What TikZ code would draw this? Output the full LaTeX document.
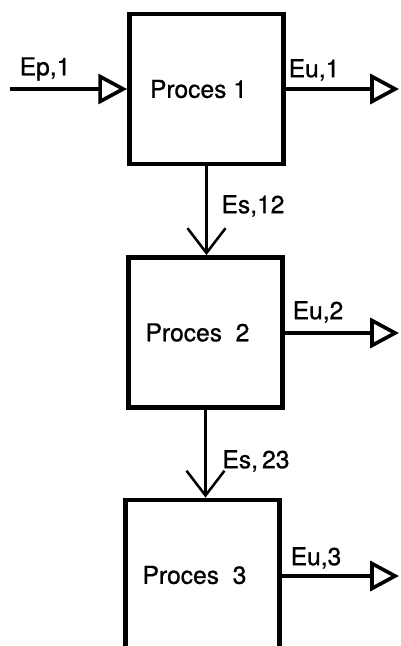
\documentclass[tikz,border=0pt]{standalone}
\usepackage{fontspec}
\setmainfont{TeX Gyre Heros}[FakeBold=0.8]
\usetikzlibrary{arrows.meta,positioning}
\tikzset{
  % process box, drawn with a heavy black outline
  proc/.style  = {rectangle, draw=black, line width=3.4pt, fill=white,
                  minimum width=3.85cm, minimum height=3.75cm, inner sep=0pt},
  pname/.style = {font=\fontsize{17.5}{20}\selectfont, xshift=-0.2cm},
  flow/.style  = {-{Triangle[open, length=0.72cm, width=0.75cm, line width=2.6pt]},
                  line width=2.8pt, black},
  feed/.style  = {-{Straight Barb[length=0.62cm, width=0.95cm, line width=1.8pt]},
                  line width=1.8pt, black},
  tag/.style   = {font=\fontsize{17.5}{20}\selectfont, inner sep=0pt},
}
\begin{document}
\begin{tikzpicture}[x=0.025cm, y=-0.025cm]
\useasboundingbox (0,0) rectangle (401,646);
\fill[white] (0,0) rectangle (401,646);
\clip (0,0) rectangle (401,646);
% the three process boxes
\node[proc, label={[pname]center:Proces 1}]        (proc1) at (206.5,89) {};
\node[proc, label={[pname]center:Proces\ \ 2}]     (proc2) at (205.5,332.5) {};
\node[proc, label={[pname]center:Proces\ \ 3}]     (proc3) at (202.5,575) {};
% free ends of the flows
\coordinate (in1)  at (10,89);
\coordinate (out1) at (399,89);
\coordinate (out2) at (399,333);
\coordinate (out3) at (399,576);
% primary input and useful outputs
\draw[flow] (in1) -- (proc1.west);
\draw[flow] (proc1.east) -- (out1);
\draw[flow] (proc2.east |- out2) -- (out2);
\draw[flow] (proc3.east |- out3) -- (out3);
% secondary flows between processes
\draw[feed] (proc1.south) -- (proc1.south |- proc2.north);
\draw[feed] (proc2.south) -- (proc2.south |- proc3.north);
% labels
\node[tag] (lp1)  at (45,69)   {Ep,1};
\node[tag] (lu1)  at (314,70)  {Eu,1};
\node[tag] (ls12) at (253,206) {Es,12};
\node[tag] (lu2)  at (318,312) {Eu,2};
\node[tag] (ls23) at (256,461) {Es,\,23};
\node[tag] (lu3)  at (316,558) {Eu,3};
\end{tikzpicture}
\end{document}
